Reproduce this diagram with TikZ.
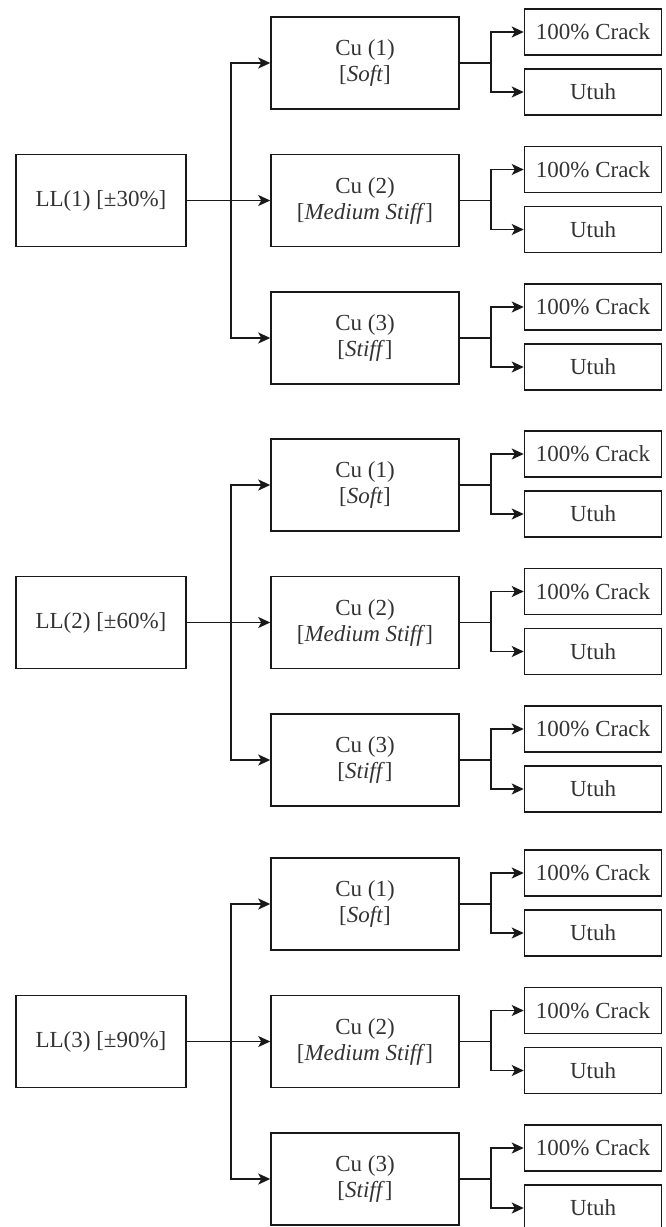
\documentclass[tikz,border=0pt]{standalone}
\usepackage{fontspec}
\setmainfont{Liberation Serif}
\usetikzlibrary{arrows.meta}
\tikzset{
  box/.style={draw=black!90, line width=1.5pt, inner sep=0pt, align=center,
    font=\fontsize{23}{26}\selectfont, text=black!80},
  llbox/.style={box, minimum width=170pt, minimum height=92pt},
  cubox/.style={box, minimum width=188pt, minimum height=92pt},
  outbox/.style={box, minimum width=137pt, minimum height=46pt},
  conn/.style={line width=1.5pt, draw=black!90},
  arr/.style={conn, -{Stealth[length=12pt,width=11pt,inset=3pt]}}
}
\begin{document}
\begin{tikzpicture}[x=1pt,y=-1pt]
\useasboundingbox (0,0) rectangle (666,1227);
\foreach \b/\o/\p in {1/0/30, 2/422/60, 3/841/90} {
  \node[llbox] (LL\b) at (101, \o+200.5) {LL(\b) [±\p\%]};
  \node[cubox] (Cu\b1) at (365, \o+63) {Cu (1)\\{[}\textit{Soft}{]}};
  \node[cubox] (Cu\b2) at (365, \o+200.5) {Cu (2)\\{[}\textit{Medium Stiff}{]}};
  \node[cubox] (Cu\b3) at (365, \o+338) {Cu (3)\\{[}\textit{Stiff}{]}};
  \coordinate (T\b) at (231, \o+200.5);
  \draw[conn] (LL\b.east) -- (T\b);
  \draw[arr] (T\b) |- (Cu\b1.west);
  \draw[arr] (T\b) -- (Cu\b2.west);
  \draw[arr] (T\b) |- (Cu\b3.west);
  \foreach \i/\cy in {1/63, 2/200.5, 3/338} {
    \node[outbox] (Cr\b\i) at (593, \o+\cy-31) {100\% Crack};
    \node[outbox] (Ut\b\i) at (593, \o+\cy+29) {Utuh};
    \coordinate (S\b\i) at (491, \o+\cy);
    \draw[conn] (Cu\b\i.east) -- (S\b\i);
    \draw[arr] (S\b\i) |- (Cr\b\i.west);
    \draw[arr] (S\b\i) |- (Ut\b\i.west);
  }
}
\end{tikzpicture}
\end{document}
